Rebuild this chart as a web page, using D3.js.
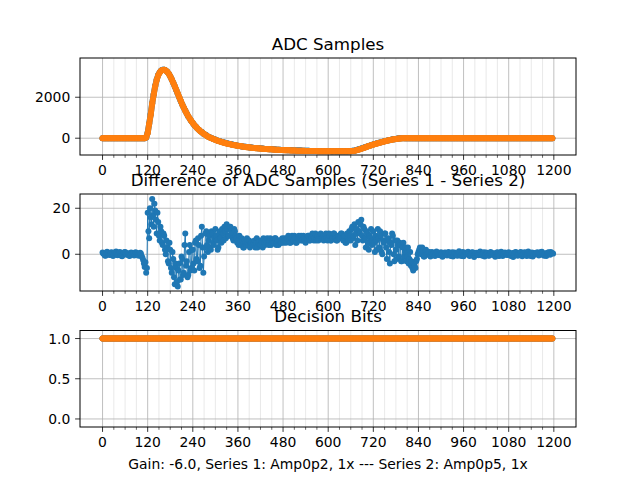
<!DOCTYPE html>
<html><head><meta charset="utf-8">
<script src="https://cdn.jsdelivr.net/npm/d3@7"></script>
<style>
body{margin:0;background:#fff}
svg{display:block}
text{font-family:"DejaVu Sans",sans-serif;fill:#000}
</style>
</head><body>
<svg id="chart" width="640" height="480"></svg>
<script>
// ---- data ----
const adcStep = 4;    // one ADC value every 4 samples
const diffStep = 2;   // one difference value every 2 samples

// Series 2 ADC samples (orange)
const adcSeries2 = [
  0,0,0,0,0,0,0,0,0,0,
  0,0,0,0,0,0,0,0,0,0,
  0,0,0,0,0,0,0,0,0,40,
  250,700,1150,1680,2130,2530,2850,3070,3210,3295,
  3335,3340,3310,3245,3150,3020,2870,2710,2540,2360,
  2180,2000,1820,1650,1490,1340,1200,1070,950,840,
  740,645,560,480,410,345,285,230,180,135,
  80,45,12,-20,-50,-80,-108,-135,-160,-183,
  -205,-226,-246,-265,-283,-300,-316,-331,-345,-358,
  -371,-383,-395,-406,-417,-427,-437,-446,-455,-464,
  -472,-480,-487,-494,-501,-507,-513,-519,-525,-530,
  -535,-540,-545,-550,-555,-559,-563,-567,-571,-575,
  -579,-583,-587,-590,-593,-596,-599,-602,-605,-608,
  -610,-612,-614,-616,-618,-620,-622,-624,-626,-627,
  -628,-629,-630,-631,-632,-633,-634,-635,-636,-636,
  -637,-637,-638,-638,-638,-639,-639,-639,-640,-640,
  -640,-640,-640,-640,-640,-637,-630,-620,-603,-585,
  -564,-541,-517,-491,-465,-438,-411,-385,-360,-336,
  -312,-289,-267,-246,-225,-204,-183,-162,-143,-125,
  -107,-90,-74,-60,-47,-36,-26,-17,-10,-5,
  -1,0,0,0,0,0,0,0,0,0,
  0,0,0,0,0,0,0,0,0,0,
  0,0,0,0,0,0,0,0,0,0,
  0,0,0,0,0,0,0,0,0,0,
  0,0,0,0,0,0,0,0,0,0,
  0,0,0,0,0,0,0,0,0,0,
  0,0,0,0,0,0,0,0,0,0,
  0,0,0,0,0,0,0,0,0,0,
  0,0,0,0,0,0,0,0,0,0,
  0,0,0,0,0,0,0,0,0,0
];

// Difference of ADC samples (Series 1 - Series 2), 20 values per 40 samples
const adcDifference = [
  0.8,0.3,0.2,-0.5,-0.6,0.4,1.1,0.6,0.4,-0.2,-0.3,0.7,0.9,0.1,-0.8,-0.3,0.5,0.9,1.2,0.4,
  -0.4,0.2,0.7,1.0,0.1,-0.6,-0.9,-0.2,0.6,0.9,1.0,0.3,-0.2,0.5,0.3,-0.5,-0.7,0.1,0.8,0.4,
  0.2,0.6,-0.5,0.1,0.9,0.5,0.4,-0.3,-0.6,0.2,0.7,0.3,-0.9,-1.5,-2.5,-4.0,-5.5,-3.5,-8.0,-6.0,
  18,10,7,20,16,13,24,17,12,22,19,15,9,18,14,8,6,12,10,5,
  4,9,8,2,0,6,3,-3,-4,5,2,-6,-8,1,-2,-10,-13,-4,-6,-12,
  -14,-7,-4,-11,-11,-1,-2,-9,-8,4,9,-5,-3,-10,-9,1,4,-7,-6,2,
  2,-4,-7,5,6,-2,-3,7,4,-6,-5,8,12,3,-8,-1,3,9,10,4,
  1,6,8,3,2,10,9,5,4,7,11,8,6,2,3,9,10,7,5,11,
  9,6,12,10,7,13,11,8,8,12,12,10,9,7,6,11,10,8,7,5,
  6,4,8,5,4,7,6,3,3,6,5,4,7,5,4,6,3,5,5,4,
  4,5,6,3,5,7,3,5,6,4,4,6,5,3,7,5,4,6,5,7,
  5,4,6,7,4,5,6,5,5,7,7,4,5,6,4,6,6,5,5,7,
  6,5,7,6,5,7,7,8,6,5,5,7,8,6,6,8,7,5,5,7,
  7,8,6,7,8,6,6,8,7,6,5,7,7,8,8,6,6,8,7,9,
  8,6,7,9,6,7,8,6,7,8,9,7,7,8,6,7,8,9,7,6,
  7,9,8,6,6,8,7,9,9,7,7,6,6,8,8,7,7,9,9,7,
  6,8,8,5,5,9,7,6,10,8,6,11,12,7,8,13,4,9,11,6,
  14,10,9,13,15,8,6,12,11,7,3,10,9,5,2,8,7,11,4,6,
  10,5,1,8,6,2,11,7,3,10,8,1,0,6,5,9,9,3,-2,6,
  7,1,-4,5,4,9,8,0,-3,6,2,-2,6,4,-1,5,4,-3,-3,3,
  5,-1,1,3,-3,-1,3,-4,-2,1,-5,-3,-6,-7,-4,-5,-6,-3,-2,0,
  1,2,3,1,0,3,2,-1,-1,1,2,0,0,1,1,-0.5,-1,0.5,1,0.2,
  0.6,0.1,-0.8,0.5,1.2,0.7,0.1,-0.3,-0.4,0.4,0.9,0.2,-1.1,-0.4,0.3,0.8,0.7,0.1,-0.5,0.3,
  1.0,0.4,-0.2,-0.7,0.4,0.9,-1.0,-0.2,0.8,0.3,0.2,-0.4,-0.6,0.5,1.3,0.6,-0.3,-0.8,0.5,1.0,
  -0.9,-0.1,0.7,0.4,0.0,0.6,1.1,0.2,-0.7,-0.3,0.4,0.8,0.9,-0.4,-1.2,-0.2,0.2,0.7,0.6,-0.1,
  -0.4,0.5,1.2,0.3,-0.1,-0.6,0.5,0.9,-1.0,-0.2,0.8,0.4,0.3,-0.5,-0.6,0.6,1.0,0.2,-0.2,0.3,
  0.4,-0.4,-1.1,0.2,0.7,0.9,0.1,-0.7,-0.5,0.4,1.1,0.3,-0.8,0.0,0.3,0.8,0.6,-0.2,-0.3,0.5,
  0.9,0.2,-0.4,-0.8,0.2,0.6,-1.2,-0.3,0.5,1.0,0.8,-0.1,-0.6,0.3,0.1,0.7,1.0,-0.4,-0.9,0.2,
  0.3,0.9,0.7,-0.2,-0.7,0.5,1.2,0.3,-0.2,-0.8,0.4,0.8,-1.0,-0.3,0.6,0.2,0.0,0.5,0.9,0.1,
  -0.5,0.2,0.6,1.0,1.1,0.3,-0.3,-0.6,0.2,0.5,-0.8,0.1,0.7,0.9,0.4,-0.2,1.0,0.6,0.5,0.3
];

// Decision bits (both series), one value every 4 samples
const decisionBits = [
  1,1,1,1,1,1,1,1,1,1, 1,1,1,1,1,1,1,1,1,1, 1,1,1,1,1,1,1,1,1,1,
  1,1,1,1,1,1,1,1,1,1, 1,1,1,1,1,1,1,1,1,1, 1,1,1,1,1,1,1,1,1,1,
  1,1,1,1,1,1,1,1,1,1, 1,1,1,1,1,1,1,1,1,1, 1,1,1,1,1,1,1,1,1,1,
  1,1,1,1,1,1,1,1,1,1, 1,1,1,1,1,1,1,1,1,1, 1,1,1,1,1,1,1,1,1,1,
  1,1,1,1,1,1,1,1,1,1, 1,1,1,1,1,1,1,1,1,1, 1,1,1,1,1,1,1,1,1,1,
  1,1,1,1,1,1,1,1,1,1, 1,1,1,1,1,1,1,1,1,1, 1,1,1,1,1,1,1,1,1,1,
  1,1,1,1,1,1,1,1,1,1, 1,1,1,1,1,1,1,1,1,1, 1,1,1,1,1,1,1,1,1,1,
  1,1,1,1,1,1,1,1,1,1, 1,1,1,1,1,1,1,1,1,1, 1,1,1,1,1,1,1,1,1,1,
  1,1,1,1,1,1,1,1,1,1, 1,1,1,1,1,1,1,1,1,1, 1,1,1,1,1,1,1,1,1,1,
  1,1,1,1,1,1,1,1,1,1, 1,1,1,1,1,1,1,1,1,1, 1,1,1,1,1,1,1,1,1,1
];

const xTicks = [0,120,240,360,480,600,720,840,960,1080,1200];
const xMinorTicks = [30,60,90,150,180,210,270,300,330,390,420,450,510,540,570,
                     630,660,690,750,780,810,870,900,930,990,1020,1050,1110,1140,1170];
const adcYTicks = [0, 2000];
const diffYTicks = [0, 20];
const bitsYTicks = [0.0, 0.5, 1.0];

const titles = ["ADC Samples", "Difference of ADC Samples (Series 1 - Series 2)", "Decision Bits"];
const xLabel = "Gain: -6.0, Series 1: Amp0p2, 1x --- Series 2: Amp0p5, 1x";

// ---- derived ----
const adcIndex = adcSeries2.map((_, k) => k * adcStep);
const diffIndex = adcDifference.map((_, k) => k * diffStep);
const adcSeries1 = adcSeries2.map((v, k) => v + (adcDifference[k * adcStep / diffStep] || 0));

const C1 = "#1f77b4", C2 = "#ff7f0e";
const svg = d3.select("#chart");
const L = 80, R = 576;
const x = d3.scaleLinear().domain([-59.95, 1258.95]).range([L, R]);

const panels = [
  {top: 58, bottom: 155, yDomain: [-820, 3916], yTicks: adcYTicks, fmt: d => String(d), lw: 6,
   series: [{v: adcSeries1, i: adcIndex, c: C1}, {v: adcSeries2, i: adcIndex, c: C2}], title: titles[0]},
  {top: 194, bottom: 291, yDomain: [-15.96, 26.2], yTicks: diffYTicks, fmt: d => String(d), lw: 1,
   series: [{v: adcDifference, i: diffIndex, c: C1}], title: titles[1]},
  {top: 330.5, bottom: 427, yDomain: [-0.1, 1.1], yTicks: bitsYTicks, fmt: d => d.toFixed(1), lw: 6,
   series: [{v: decisionBits, i: adcIndex, c: C1}, {v: decisionBits, i: adcIndex, c: C2}], title: titles[2]}
];

const FS = 13.9;
panels.forEach((p, pi) => {
  const y = d3.scaleLinear().domain(p.yDomain).range([p.bottom, p.top]);
  const g = svg.append("g");
  const clipId = "clip" + pi;
  svg.append("clipPath").attr("id", clipId).append("rect")
    .attr("x", L).attr("y", p.top).attr("width", R - L).attr("height", p.bottom - p.top);

  // minor grid (x)
  g.selectAll(".mg").data(xMinorTicks).enter().append("line")
    .attr("x1", d => x(d)).attr("x2", d => x(d)).attr("y1", p.top).attr("y2", p.bottom)
    .attr("stroke", "#e3e3e3").attr("stroke-width", 0.8);
  // major grid
  g.selectAll(".gx").data(xTicks).enter().append("line")
    .attr("x1", d => x(d)).attr("x2", d => x(d)).attr("y1", p.top).attr("y2", p.bottom)
    .attr("stroke", "#b0b0b0").attr("stroke-width", 0.8);
  g.selectAll(".gy").data(p.yTicks).enter().append("line")
    .attr("x1", L).attr("x2", R).attr("y1", d => y(d)).attr("y2", d => y(d))
    .attr("stroke", "#b0b0b0").attr("stroke-width", 0.8);

  // data
  const dg = g.append("g").attr("clip-path", `url(#${clipId})`);
  p.series.forEach(s => {
    const pts = s.v.map((v, k) => [x(s.i[k]), y(v)]);
    dg.append("path").attr("d", d3.line()(pts)).attr("fill", "none")
      .attr("stroke", s.c).attr("stroke-width", p.lw)
      .attr("stroke-linejoin", "round").attr("stroke-linecap", "round");
    dg.append("g").selectAll("circle").data(pts).enter().append("circle")
      .attr("cx", d => d[0]).attr("cy", d => d[1]).attr("r", 3).attr("fill", s.c);
  });

  // ticks
  g.selectAll(".tx").data(xTicks).enter().append("line")
    .attr("x1", d => x(d)).attr("x2", d => x(d)).attr("y1", p.bottom).attr("y2", p.bottom + 4.9)
    .attr("stroke", "#000").attr("stroke-width", 0.8);
  g.selectAll(".tmx").data(xMinorTicks).enter().append("line")
    .attr("x1", d => x(d)).attr("x2", d => x(d)).attr("y1", p.bottom).attr("y2", p.bottom + 2.8)
    .attr("stroke", "#000").attr("stroke-width", 0.6);
  g.selectAll(".lx").data(xTicks).enter().append("text")
    .attr("x", d => x(d)).attr("y", p.bottom + 20.3).attr("text-anchor", "middle")
    .attr("font-size", FS).text(d => d);
  g.selectAll(".ty").data(p.yTicks).enter().append("line")
    .attr("x1", L - 4.9).attr("x2", L).attr("y1", d => y(d)).attr("y2", d => y(d))
    .attr("stroke", "#000").attr("stroke-width", 0.8);
  g.selectAll(".ly").data(p.yTicks).enter().append("text")
    .attr("x", L - 9.7).attr("y", d => y(d) + 5).attr("text-anchor", "end")
    .attr("font-size", FS).text(p.fmt);

  // frame
  g.append("rect").attr("x", L).attr("y", p.top).attr("width", R - L).attr("height", p.bottom - p.top)
    .attr("fill", "none").attr("stroke", "#000").attr("stroke-width", 1);

  // title
  g.append("text").attr("x", (L + R) / 2).attr("y", p.top - 8.3).attr("text-anchor", "middle")
    .attr("font-size", 16.7).text(p.title);

  if (pi === 2) {
    g.append("text").attr("x", (L + R) / 2).attr("y", p.bottom + 41.5).attr("text-anchor", "middle")
      .attr("font-size", FS).text(xLabel);
  }
});
</script>
</body></html>
